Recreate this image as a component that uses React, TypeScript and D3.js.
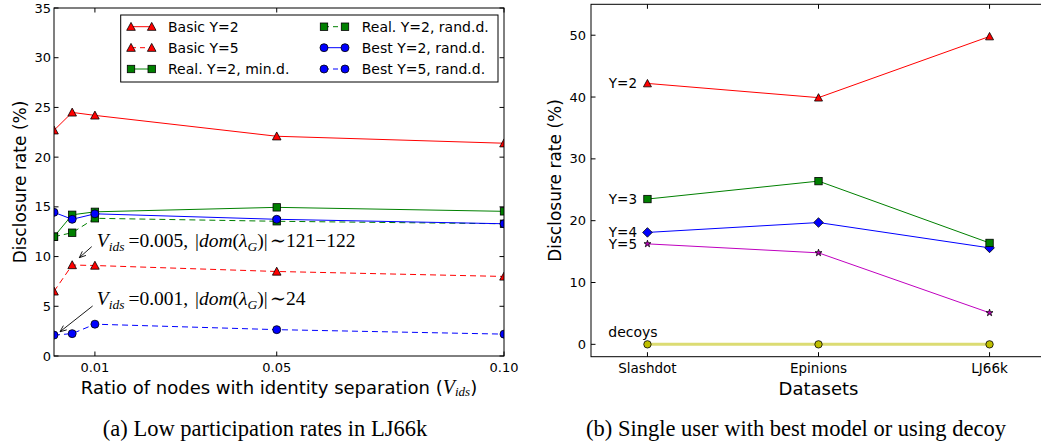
import React from "react";
import * as d3 from "d3";

// ---------- Data: left panel ----------
const xVals = [0.001, 0.005, 0.01, 0.05, 0.1];
const basicY2 = [22.7, 24.5, 24.2, 22.1, 21.4];
const basicY5 = [6.5, 9.15, 9.1, 8.5, 8.0];
const realMinD = [12.0, 14.2, 14.5, 14.95, 14.55];
const realRandD = [12.0, 12.4, 13.85, 13.55, 13.3];
const bestY2 = [14.45, 13.75, 14.3, 13.75, 13.3];
const bestY5 = [2.1, 2.25, 3.2, 2.65, 2.2];
const leftXTicks = [0.01, 0.05, 0.1];
const leftXTickLabels = ["0.01", "0.05", "0.10"];
const leftYTicks = [0, 5, 10, 15, 20, 25, 30, 35];

// ---------- Data: right panel ----------
const datasets = ["Slashdot", "Epinions", "LJ66k"];
const rY2 = [42.2, 39.9, 49.8];
const rY3 = [23.5, 26.4, 16.4];
const rY4 = [18.1, 19.7, 15.6];
const rY5 = [16.25, 14.8, 5.1];
const rDecoys = [0, 0, 0];
const rightYTicks = [0, 10, 20, 30, 40, 50];

const SANS = "DejaVu Sans, sans-serif";
const SERIF = "Liberation Serif, DejaVu Serif, serif";

type MarkerType = "tri" | "sq" | "circ" | "diam" | "star";

function Marker({ type, x, y, r, fill }: { type: MarkerType; x: number; y: number; r: number; fill: string }) {
  const st = { fill, stroke: "#000", strokeWidth: 0.8 };
  if (type === "tri") {
    return <polygon points={`${x},${y - r} ${x - r},${y + r * 0.85} ${x + r},${y + r * 0.85}`} {...st} />;
  }
  if (type === "sq") {
    return <rect x={x - r} y={y - r} width={2 * r} height={2 * r} {...st} />;
  }
  if (type === "circ") {
    return <circle cx={x} cy={y} r={r} {...st} />;
  }
  if (type === "diam") {
    return <polygon points={`${x},${y - r} ${x + r},${y} ${x},${y + r} ${x - r},${y}`} {...st} />;
  }
  const p = d3.symbol().type(d3.symbolStar).size(r * r * 2.2)();
  return <path d={p || ""} transform={`translate(${x},${y})`} {...st} />;
}

export default function App() {
  // Left panel geometry
  const L = { left: 54, right: 504, top: 8, bottom: 356 };
  const lx = d3.scaleLinear().domain([0.001, 0.1]).range([L.left, L.right]);
  const ly = d3.scaleLinear().domain([0, 35]).range([L.bottom, L.top]);

  const leftSeries = [
    { vals: basicY2, color: "#ff0000", dash: "", m: "tri" as MarkerType, label: "Basic Y=2", r: 4.3 },
    { vals: basicY5, color: "#ff0000", dash: "6,4", m: "tri" as MarkerType, label: "Basic Y=5", r: 4.3 },
    { vals: realMinD, color: "#008000", dash: "", m: "sq" as MarkerType, label: "Real. Y=2, min.d.", r: 3.7 },
    { vals: realRandD, color: "#008000", dash: "6,4", m: "sq" as MarkerType, label: "Real. Y=2, rand.d.", r: 3.7 },
    { vals: bestY2, color: "#0000ff", dash: "", m: "circ" as MarkerType, label: "Best Y=2, rand.d.", r: 4 },
    { vals: bestY5, color: "#0000ff", dash: "6,4", m: "circ" as MarkerType, label: "Best Y=5, rand.d.", r: 4 },
  ];
  const lineL = d3
    .line<number>()
    .x((_, i) => lx(xVals[i]))
    .y((d) => ly(d));

  // Right panel geometry
  const R = { left: 591, right: 1046, top: 4.3, bottom: 356.7 };
  const rx = d3.scaleLinear().domain([-0.33, 2.33]).range([R.left, R.right]);
  const ry = d3.scaleLinear().domain([-2, 55]).range([R.bottom, R.top]);
  const rightSeries = [
    { vals: rY2, color: "#ff0000", m: "tri" as MarkerType, label: "Y=2", r: 4, w: 1, op: 1 },
    { vals: rY3, color: "#008000", m: "sq" as MarkerType, label: "Y=3", r: 3.7, w: 1, op: 1 },
    { vals: rY4, color: "#0000ff", m: "diam" as MarkerType, label: "Y=4", r: 4.8, w: 1, op: 1 },
    { vals: rY5, color: "#bf00bf", m: "star" as MarkerType, label: "Y=5", r: 2.6, w: 1, op: 1 },
    { vals: rDecoys, color: "#bfbf00", m: "circ" as MarkerType, label: "decoys", r: 3.7, w: 3, op: 0.55 },
  ];
  const lineR = d3
    .line<number>()
    .x((_, i) => rx(i))
    .y((d) => ry(d));

  const tickLen = 4.5;

  // Legend
  const legend = { x: 120.7, y: 15, w: 377.3, h: 67 };
  const legendRows = [26.7, 47.7, 69];
  const legendCols = [
    { m1: 131, m2: 151.7, tx: 168 },
    { m1: 324, m2: 345, tx: 361.7 },
  ];

  // Annotations (data coordinates)
  const annotations = [
    { target: [0.00657, 9.89], from: [0.0093, 11.0], text: [0.0104, 10.95], v: "0.005", dom: "121\u2212122" },
    { target: [0.00232, 2.44], from: [0.0095, 5.03], text: [0.0104, 5.1], v: "0.001", dom: "24" },
  ];

  return (
    <svg
      width={1041}
      height={446}
      style={{ position: "absolute", left: 0, top: 0, background: "#fff" }}
      fontFamily={SANS}
    >
      <defs>
        <clipPath id="clipL">
          <rect x={L.left} y={L.top} width={L.right - L.left} height={L.bottom - L.top} />
        </clipPath>
      </defs>
      <rect x={0} y={0} width={1041} height={446} fill="#fff" />

      {/* ================= LEFT PANEL ================= */}
      <g clipPath="url(#clipL)">
        {leftSeries.map((s, si) => (
          <g key={si}>
            <path d={lineL(s.vals) || ""} fill="none" stroke={s.color} strokeWidth={1} strokeDasharray={s.dash || undefined} />
            {s.vals.map((v, i) => (
              <Marker key={i} type={s.m} x={lx(xVals[i])} y={ly(v)} r={s.r} fill={s.color} />
            ))}
          </g>
        ))}
      </g>
      {/* axes frame */}
      <rect x={L.left} y={L.top} width={L.right - L.left} height={L.bottom - L.top} fill="none" stroke="#000" strokeWidth={1} />
      {/* y ticks */}
      {leftYTicks.map((t) => (
        <g key={t}>
          <line x1={L.left} x2={L.left + tickLen} y1={ly(t)} y2={ly(t)} stroke="#000" />
          <line x1={L.right} x2={L.right - tickLen} y1={ly(t)} y2={ly(t)} stroke="#000" />
          <text x={L.left - 3} y={ly(t)} fontSize={13} textAnchor="end" dominantBaseline="central">
            {t}
          </text>
        </g>
      ))}
      {/* x ticks */}
      {leftXTicks.map((t, i) => (
        <g key={t}>
          <line x1={lx(t)} x2={lx(t)} y1={L.bottom} y2={L.bottom - tickLen} stroke="#000" />
          <line x1={lx(t)} x2={lx(t)} y1={L.top} y2={L.top + tickLen} stroke="#000" />
          <text x={lx(t)} y={L.bottom + 11} fontSize={13} textAnchor="middle" dominantBaseline="central">
            {leftXTickLabels[i]}
          </text>
        </g>
      ))}
      {/* axis labels */}
      <text x={(L.left + L.right) / 2} y={387} fontSize={18} textAnchor="middle" dominantBaseline="central">
        Ratio of nodes with identity separation (
        <tspan fontFamily={SERIF} fontStyle="italic" fontSize={20}>V</tspan>
        <tspan fontFamily={SERIF} fontStyle="italic" fontSize={13} dy={4}>ids</tspan>
        <tspan dy={-4}>)</tspan>
      </text>
      <text
        transform={`translate(20,${(L.top + L.bottom) / 2}) rotate(-90)`}
        fontSize={17}
        textAnchor="middle"
        dominantBaseline="central"
      >
        Disclosure rate (%)
      </text>

      {/* annotations */}
      {annotations.map((a, i) => {
        const tx = lx(a.target[0]);
        const ty = ly(a.target[1]);
        const fx = lx(a.from[0]);
        const fy = ly(a.from[1]);
        const ang = Math.atan2(ty - fy, tx - fx);
        const ah = 7;
        const a1 = ang + Math.PI - 0.4;
        const a2 = ang + Math.PI + 0.4;
        return (
          <g key={i}>
            <line x1={fx} y1={fy} x2={tx} y2={ty} stroke="#000" strokeWidth={0.9} />
            <polyline
              points={`${tx + ah * Math.cos(a1)},${ty + ah * Math.sin(a1)} ${tx},${ty} ${tx + ah * Math.cos(a2)},${ty + ah * Math.sin(a2)}`}
              fill="none"
              stroke="#000"
              strokeWidth={0.9}
            />
            <text x={lx(a.text[0])} y={ly(a.text[1])} fontFamily={SERIF} fontSize={19.5}>
              <tspan fontStyle="italic">V</tspan>
              <tspan fontStyle="italic" fontSize={13.5} dy={4}>ids</tspan>
              <tspan dy={-4} dx={4}>=</tspan>
              <tspan>{a.v}, </tspan>
              <tspan dx={2}>|</tspan>
              <tspan fontStyle="italic">dom</tspan>
              <tspan>(</tspan>
              <tspan fontStyle="italic">λ</tspan>
              <tspan fontStyle="italic" fontSize={13.5} dy={4}>G</tspan>
              <tspan dy={-4}>)|</tspan>
              <tspan dx={2}>∼</tspan>
              <tspan>{a.dom}</tspan>
            </text>
          </g>
        );
      })}

      {/* legend */}
      <rect x={legend.x} y={legend.y} width={legend.w} height={legend.h} fill="#fff" stroke="#000" strokeWidth={1} />
      {leftSeries.map((s, si) => {
        const col = legendCols[Math.floor(si / 3)];
        const yy = legendRows[si % 3];
        return (
          <g key={si}>
            <line x1={col.m1} x2={col.m2} y1={yy} y2={yy} stroke={s.color} strokeWidth={1} strokeDasharray={s.dash ? "5,4" : undefined} />
            <Marker type={s.m} x={col.m1} y={yy} r={s.r} fill={s.color} />
            <Marker type={s.m} x={col.m2} y={yy} r={s.r} fill={s.color} />
            <text x={col.tx} y={yy} fontSize={14} dominantBaseline="central">
              {s.label}
            </text>
          </g>
        );
      })}

      <text x={265} y={428} fontFamily={SERIF} fontSize={22.5} textAnchor="middle" dominantBaseline="central">
        (a) Low participation rates in LJ66k
      </text>

      {/* ================= RIGHT PANEL ================= */}
      {rightSeries
        .slice()
        .reverse()
        .map((s, si) => (
          <g key={si}>
            <path d={lineR(s.vals) || ""} fill="none" stroke={s.color} strokeWidth={s.w} strokeOpacity={s.op} />
            {s.vals.map((v, i) => (
              <Marker key={i} type={s.m} x={rx(i)} y={ry(v)} r={s.r} fill={s.color} />
            ))}
          </g>
        ))}
      {rightSeries.map((s, si) =>
        s.label === "decoys" ? (
          <text key={si} x={608.3} y={ry(s.vals[0]) - 12} fontSize={14} dominantBaseline="central">
            {s.label}
          </text>
        ) : (
          <text key={si} x={637} y={ry(s.vals[0])} fontSize={13.5} textAnchor="end" dominantBaseline="central">
            {s.label}
          </text>
        )
      )}
      <rect x={R.left} y={R.top} width={R.right - R.left} height={R.bottom - R.top} fill="none" stroke="#000" strokeWidth={1} />
      {rightYTicks.map((t) => (
        <g key={t}>
          <line x1={R.left} x2={R.left + tickLen} y1={ry(t)} y2={ry(t)} stroke="#000" />
          <text x={R.left - 5} y={ry(t)} fontSize={13} textAnchor="end" dominantBaseline="central">
            {t}
          </text>
        </g>
      ))}
      {datasets.map((d, i) => (
        <g key={d}>
          <line x1={rx(i)} x2={rx(i)} y1={R.bottom} y2={R.bottom - tickLen} stroke="#000" />
          <line x1={rx(i)} x2={rx(i)} y1={R.top} y2={R.top + tickLen} stroke="#000" />
          <text x={rx(i)} y={R.bottom + 11} fontSize={13.5} textAnchor="middle" dominantBaseline="central">
            {d}
          </text>
        </g>
      ))}
      <text x={rx(1)} y={388} fontSize={18} textAnchor="middle" dominantBaseline="central">
        Datasets
      </text>
      <text
        transform={`translate(555,${(R.top + R.bottom) / 2}) rotate(-90)`}
        fontSize={17}
        textAnchor="middle"
        dominantBaseline="central"
      >
        Disclosure rate (%)
      </text>
      <text x={796} y={428} fontFamily={SERIF} fontSize={22.5} textAnchor="middle" dominantBaseline="central">
        (b) Single user with best model or using decoy
      </text>
    </svg>
  );
}
